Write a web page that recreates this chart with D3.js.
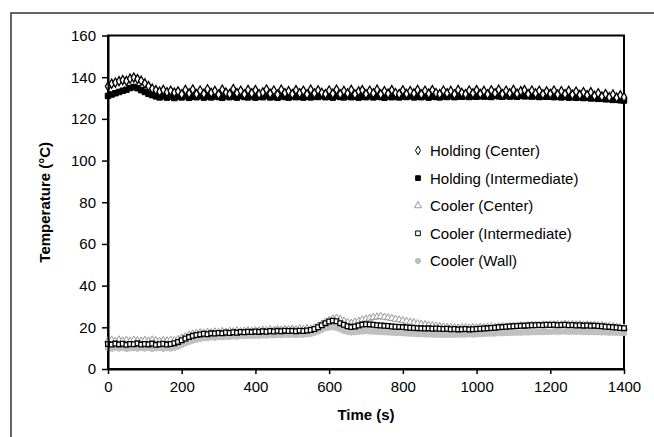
<!DOCTYPE html>
<html lang="en">
<head>
<meta charset="utf-8">
<title>Temperature vs Time</title>
<script src="https://cdn.jsdelivr.net/npm/d3@7"></script>
<style>
  body { margin: 0; background: #fff; }
  svg { display: block; font-family: "Liberation Sans", Arial, sans-serif; }
</style>
</head>
<body>
<script>
// sample times (s), one reading every 10 s
var times = d3.range(0, 1401, 10);

var holdingCenter = [
  135.6, 136.9, 137.4, 138.1, 138.6, 138.2, 139.3, 139.8, 139.1, 138.3,
  137.0, 135.7, 134.5, 133.8, 133.1, 133.9, 132.8, 133.5, 132.6, 133.2,
  131.8, 133.9, 132.2, 134.1, 131.9, 133.6, 132.0, 134.2, 132.5, 133.4,
  131.7, 134.0, 132.6, 131.9, 134.3, 132.4, 133.5, 131.8, 133.9, 132.3,
  133.8, 131.9, 132.7, 134.1, 132.1, 133.6, 131.7, 134.0, 132.4, 133.3,
  131.9, 133.8, 132.3, 133.5, 131.8, 134.0, 132.2, 133.7, 132.5, 131.9,
  133.6, 132.1, 134.0, 131.9, 133.4, 132.2, 133.9, 131.8, 133.2, 133.8,
  131.9, 133.5, 132.3, 134.0, 131.8, 133.3, 132.1, 133.8, 132.4, 131.9,
  133.7, 132.0, 133.3, 132.2, 133.9, 131.8, 133.5, 132.1, 133.8, 132.4,
  131.9, 133.6, 132.3, 133.4, 131.8, 133.9, 132.5, 131.9, 133.6, 132.2,
  133.8, 132.0, 133.4, 131.8, 133.7, 132.3, 134.0, 131.9, 133.5, 132.2,
  133.9, 132.1, 133.3, 133.8, 131.9, 133.6, 132.2, 133.5, 131.8, 133.2,
  132.0, 133.6, 131.7, 133.3, 131.9, 133.4, 131.6, 133.1, 131.5, 132.8,
  131.4, 132.8, 131.0, 132.3, 130.7, 131.9, 130.4, 131.7, 130.2, 131.3,
  130.4
];

var holdingInter = [
  131.0, 131.7, 132.3, 132.9, 133.5, 134.0, 134.8, 135.3, 134.7, 133.8,
  132.9, 132.0, 131.4, 130.8, 130.3, 130.9, 130.2, 130.7, 130.0, 130.6,
  130.3, 130.9, 130.1, 130.6, 130.4, 131.0, 130.2, 130.7, 130.3, 130.8,
  130.5, 130.1, 130.9, 130.4, 130.7, 130.2, 131.0, 130.5, 130.3, 130.8,
  130.2, 130.7, 130.4, 131.0, 130.3, 130.6, 130.1, 130.8, 130.5, 130.2,
  130.9, 130.4, 130.6, 130.2, 130.8, 130.3, 130.7, 130.5, 131.0, 130.4,
  130.6, 130.2, 130.9, 130.5, 130.3, 130.8, 130.4, 130.7, 130.2, 130.6,
  130.4, 130.9, 130.3, 130.7, 130.5, 130.1, 130.8, 130.4, 130.6, 130.3,
  130.7, 130.5, 130.9, 130.3, 130.6, 130.4, 130.8, 130.2, 130.7, 130.5,
  130.3, 130.8, 130.5, 130.9, 130.4, 130.7, 130.6, 131.0, 130.5, 130.8,
  130.6, 131.0, 130.7, 130.9, 130.5, 131.1, 130.8, 130.6, 131.0, 130.7,
  130.9, 130.6, 131.1, 130.8, 131.0, 130.7, 130.9, 130.5, 130.8, 130.6,
  130.7, 130.4, 130.8, 130.3, 130.6, 130.2, 130.5, 130.1, 130.4, 130.0,
  130.2, 129.8, 130.0, 129.6, 129.8, 129.4, 129.5, 129.1, 129.3, 128.9,
  128.8
];

var coolerCenter = [
  13.6, 13.9, 13.4, 14.0, 13.5, 13.8, 13.3, 13.9, 13.6, 13.4,
  13.8, 13.5, 14.0, 13.6, 13.3, 13.7, 13.5, 13.9, 13.7, 14.2,
  14.9, 15.6, 16.3, 16.8, 17.1, 17.4, 17.2, 17.6, 17.4, 17.8,
  17.6, 18.0, 17.7, 18.1, 17.9, 18.3, 18.0, 18.2, 18.4, 18.1,
  18.5, 18.3, 18.7, 18.4, 18.9, 18.6, 19.0, 18.7, 19.1, 18.9,
  19.2, 18.9, 19.3, 19.0, 19.4, 19.2, 19.8, 20.6, 21.5, 22.4,
  23.3, 24.0, 24.4, 23.8, 23.0, 22.4, 22.0, 22.5, 23.0, 23.6,
  24.0, 24.4, 24.8, 25.0, 25.2, 24.9, 24.6, 24.3, 23.9, 23.6,
  23.2, 22.9, 22.5, 22.2, 21.8, 21.5, 21.3, 21.0, 20.8, 20.6,
  20.4, 20.2, 20.0, 19.9, 19.8, 19.7, 19.9, 19.8, 19.7, 19.9,
  19.8, 20.0, 19.9, 20.1, 20.2, 20.0, 20.3, 20.4, 20.2, 20.5,
  20.6, 20.5, 20.8, 20.7, 21.0, 20.9, 21.1, 21.0, 21.2, 21.1,
  21.3, 21.2, 21.4, 21.3, 21.5, 21.3, 21.4, 21.2, 21.3, 21.1,
  21.2, 21.0, 21.1, 20.8, 20.9, 20.6, 20.5, 20.3, 20.1, 19.9,
  19.7
];

var coolerInter = [
  12.0, 11.7, 12.2, 11.8, 12.1, 11.6, 12.0, 11.9, 12.3, 11.7,
  12.0, 11.8, 12.2, 11.6, 11.9, 12.1, 11.7, 12.0, 12.4, 13.0,
  13.8, 14.6, 15.3, 15.9, 16.3, 16.6, 16.9, 16.7, 17.1, 17.0,
  17.3, 17.1, 17.5, 17.3, 17.6, 17.4, 17.8, 17.6, 17.9, 17.7,
  18.0, 17.8, 18.1, 17.9, 18.2, 18.0, 18.3, 18.1, 18.4, 18.2,
  18.3, 18.1, 18.4, 18.2, 18.5, 18.7, 19.2, 20.0, 21.0, 22.0,
  22.8, 23.2, 22.9, 22.0, 21.2, 20.5, 20.1, 20.4, 20.9, 21.3,
  21.5, 21.4, 21.2, 21.0, 20.9, 20.7, 20.6, 20.4, 20.3, 20.2,
  20.1, 19.9, 19.8, 19.7, 19.6, 19.5, 19.4, 19.5, 19.3, 19.4,
  19.3, 19.2, 19.3, 19.1, 19.2, 19.0, 19.1, 19.2, 19.0, 19.1,
  19.2, 19.3, 19.4, 19.5, 19.7, 19.8, 20.0, 20.1, 20.3, 20.4,
  20.5, 20.6, 20.7, 20.8, 20.9, 21.0, 21.0, 21.1, 21.0, 21.2,
  21.1, 21.2, 21.0, 21.1, 21.2, 21.0, 21.1, 20.9, 21.0, 20.8,
  20.9, 20.7, 20.8, 20.6, 20.5, 20.3, 20.2, 20.0, 19.9, 19.7,
  19.6
];

var coolerWall = [
  10.1, 9.8, 10.3, 9.9, 10.2, 9.7, 10.0, 10.1, 9.8, 10.2,
  9.9, 10.1, 9.7, 10.0, 10.2, 9.8, 10.1, 9.9, 10.3, 10.8,
  11.6, 12.4, 13.1, 13.7, 14.1, 14.5, 14.8, 14.9, 15.2, 15.1,
  15.4, 15.3, 15.6, 15.5, 15.7, 15.6, 15.9, 15.8, 16.0, 15.9,
  16.1, 16.0, 16.2, 16.1, 16.3, 16.2, 16.4, 16.3, 16.5, 16.4,
  16.5, 16.4, 16.6, 16.5, 16.7, 16.9, 17.4, 18.1, 18.9, 19.6,
  20.0, 20.2, 19.8, 19.1, 18.4, 17.9, 17.6, 17.7, 17.9, 18.1,
  18.2, 18.1, 18.0, 17.9, 17.8, 17.7, 17.6, 17.5, 17.4, 17.3,
  17.2, 17.1, 17.0, 16.9, 16.8, 16.8, 16.7, 16.6, 16.6, 16.5,
  16.5, 16.4, 16.5, 16.4, 16.5, 16.6, 16.5, 16.6, 16.7, 16.6,
  16.7, 16.8, 16.9, 17.0, 17.0, 17.1, 17.2, 17.2, 17.3, 17.4,
  17.4, 17.5, 17.5, 17.6, 17.6, 17.7, 17.7, 17.8, 17.8, 17.9,
  17.9, 18.0, 17.9, 18.0, 18.0, 17.9, 18.0, 17.9, 17.9, 17.8,
  17.8, 17.8, 17.7, 17.7, 17.6, 17.6, 17.5, 17.5, 17.4, 17.4,
  17.3
];

var xTicks = [0, 200, 400, 600, 800, 1000, 1200, 1400];
var yTicks = [0, 20, 40, 60, 80, 100, 120, 140, 160];

var series = [
  { name: "Holding (Center)", values: holdingCenter, sym: d3.symbolDiamond, size: 24, fill: "#fff", stroke: "#000", sw: 1.3 },
  { name: "Holding (Intermediate)", values: holdingInter, sym: d3.symbolSquare, size: 30, fill: "#000", stroke: "#000", sw: 1 },
  { name: "Cooler (Center)", values: coolerCenter, sym: d3.symbolTriangle, size: 22, fill: "#fff", stroke: "#999", sw: 1 },
  { name: "Cooler (Intermediate)", values: coolerInter, sym: d3.symbolSquare, size: 22, fill: "#fff", stroke: "#000", sw: 1.3 },
  { name: "Cooler (Wall)", values: coolerWall, sym: d3.symbolCircle, size: 26, fill: "#c0c0c0", stroke: "#c0c0c0", sw: 1 }
];
// drawing order (back to front)
var drawOrder = [4, 2, 3, 1, 0];

var W = 654, H = 437;
var m = { left: 108, right: 624, top: 35.5, bottom: 369 };

var svg = d3.select("body").append("svg")
  .attr("width", W).attr("height", H);

// outer chart frame (runs off the right/bottom edge)
svg.append("rect")
  .attr("x", 11).attr("y", 13)
  .attr("width", 700).attr("height", 500)
  .attr("fill", "none").attr("stroke", "#333").attr("stroke-width", 1.5);

var x = d3.scaleLinear().domain([0, 1400]).range([m.left, m.right]);
var y = d3.scaleLinear().domain([0, 160]).range([m.bottom, m.top]);

// plot area frame
svg.append("rect")
  .attr("x", m.left).attr("y", m.top)
  .attr("width", m.right - m.left).attr("height", m.bottom - m.top)
  .attr("fill", "none").attr("stroke", "#000").attr("stroke-width", 2);

var plot = svg.append("g");
drawOrder.forEach(function(k) {
  var s = series[k];
  plot.append("g").selectAll("path")
    .data(s.values)
    .enter().append("path")
    .attr("transform", function(d, i) { return "translate(" + x(times[i]) + "," + y(d) + ")"; })
    .attr("d", d3.symbol().type(s.sym).size(s.size))
    .attr("fill", s.fill)
    .attr("stroke", s.stroke)
    .attr("stroke-width", s.sw);
});

var xAxis = svg.append("g")
  .attr("transform", "translate(0," + m.bottom + ")")
  .call(d3.axisBottom(x).tickValues(xTicks).tickFormat(d3.format("d"))
    .tickSize(5).tickPadding(7).tickSizeOuter(0));
var yAxis = svg.append("g")
  .attr("transform", "translate(" + m.left + ",0)")
  .call(d3.axisLeft(y).tickValues(yTicks).tickFormat(d3.format("d"))
    .tickSize(6).tickPadding(6).tickSizeOuter(0));

[xAxis, yAxis].forEach(function(a) {
  a.select(".domain").attr("stroke", "#000").attr("stroke-width", 2);
  a.selectAll(".tick line").attr("stroke", "#000").attr("stroke-width", 1.5);
  a.selectAll("text").attr("font-size", 15).attr("fill", "#000")
    .attr("font-family", "'Liberation Sans', Arial, sans-serif");
});

svg.append("text")
  .attr("x", (m.left + m.right) / 2).attr("y", 420)
  .attr("text-anchor", "middle")
  .attr("font-size", 15).attr("font-weight", "bold")
  .text("Time (s)");

svg.append("text")
  .attr("transform", "translate(50," + ((m.top + m.bottom) / 2) + ") rotate(-90)")
  .attr("text-anchor", "middle")
  .attr("font-size", 15).attr("font-weight", "bold")
  .text("Temperature (\u00B0C)");

// legend
var legend = svg.append("g").attr("transform", "translate(418,150.5)");
var rows = legend.selectAll("g").data(series).enter().append("g")
  .attr("transform", function(d, i) { return "translate(0," + (i * 27.6) + ")"; });
rows.append("path")
  .attr("d", function(d) { return d3.symbol().type(d.sym).size(22)(); })
  .attr("fill", function(d) { return d.fill; })
  .attr("stroke", function(d) { return d.stroke; })
  .attr("stroke-width", 1);
rows.append("text")
  .attr("x", 12).attr("y", 5.5)
  .attr("font-size", 15)
  .text(function(d) { return d.name; });
</script>
</body>
</html>
